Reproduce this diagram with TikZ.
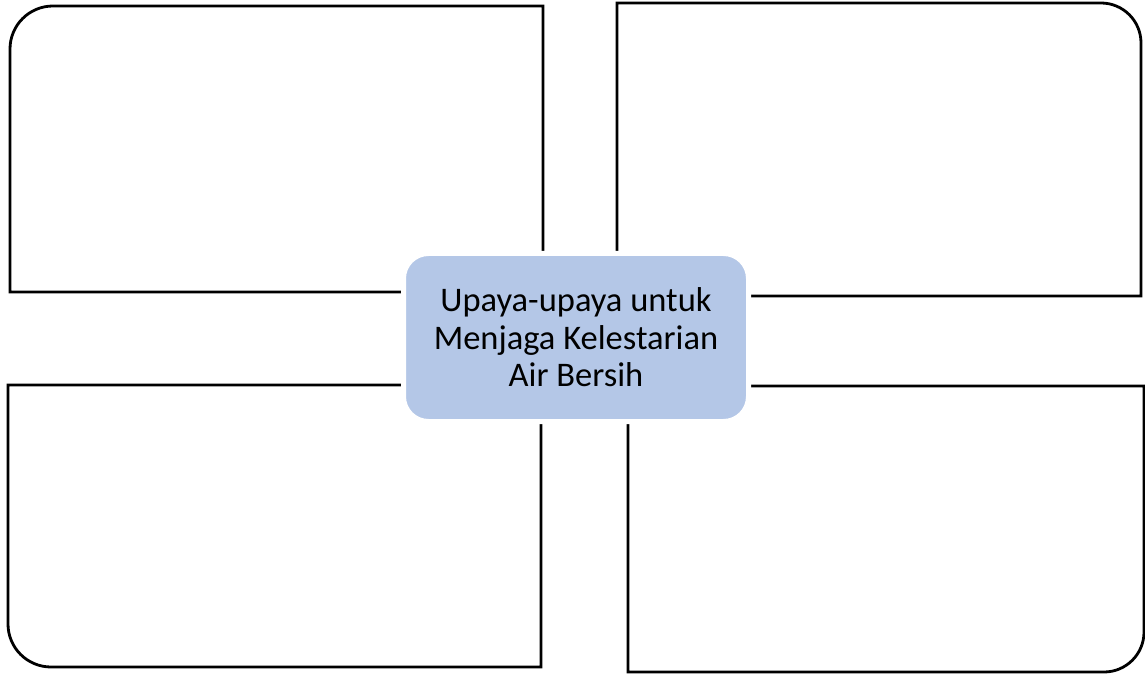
\documentclass[tikz,border=0pt]{standalone}
\usepackage{fontspec}
\setmainfont{Carlito}
\definecolor{centerblue}{HTML}{B4C7E7}
\begin{document}
\begin{tikzpicture}[x=1pt,y=1pt,
  panel/.style={draw=black,line width=2.8pt,line join=miter},
  centerbox/.style={rectangle,rounded corners=25pt,fill=centerblue,draw=white,line width=5pt,
    minimum width=345pt,minimum height=168pt,inner sep=0pt,align=center,
    font=\fontsize{34.5}{37.5}\selectfont,text=black}]
\useasboundingbox (0,0) rectangle (1145,673);
% top-left panel
\draw[panel] (543,381) -- (10,381) -- (10,624) arc[start angle=180,end angle=90,radius=43] -- (543,667) -- cycle;
% top-right panel
\draw[panel] (617,377) -- (617,670) -- (1101,670) arc[start angle=90,end angle=0,radius=40] -- (1141,377) -- cycle;
% bottom-left panel
\draw[panel] (541,288) -- (8,288) -- (8,49) arc[start angle=180,end angle=270,radius=43] -- (541,6) -- cycle;
% bottom-right panel
\draw[panel] (628,287) -- (628,1) -- (1104,1) arc[start angle=-90,end angle=0,radius=40] -- (1144,287) -- cycle;
% center
\node[centerbox] (center) at (576,335.5) {Upaya-upaya untuk\\Menjaga Kelestarian\\Air Bersih};
\end{tikzpicture}
\end{document}
